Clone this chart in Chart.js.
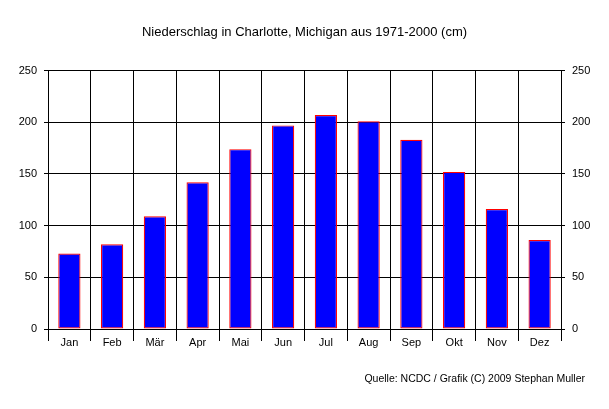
<!DOCTYPE html>
<html>
<head>
  <meta charset="utf-8">
  <title>Niederschlag Charlotte</title>
  <script src="https://cdn.jsdelivr.net/npm/chart.js"></script>
  <style>
    body { margin: 0; background: #fff; }
  </style>
</head>
<body>
  <canvas id="rainChart" width="609" height="409"></canvas>

  <script>
    const months = ['Jan', 'Feb', 'Mär', 'Apr', 'Mai', 'Jun', 'Jul', 'Aug', 'Sep', 'Okt', 'Nov', 'Dez'];
    const rain = [73, 82, 109, 142, 174, 197, 207, 201, 183, 152, 116, 86];
    const titleText = 'Niederschlag in Charlotte, Michigan aus 1971-2000 (cm)';
    const sourceText = 'Quelle: NCDC / Grafik (C) 2009 Stephan Muller';

    const font = 'Arial, "Liberation Sans", sans-serif';
    const ctx = document.getElementById('rainChart').getContext('2d');

    // footer line bottom right
    const sourceNote = {
      id: 'sourceNote',
      afterDraw(chart) {
        const c = chart.ctx;
        c.save();
        c.font = '10.5px ' + font;
        c.fillStyle = '#000';
        c.textAlign = 'right';
        c.textBaseline = 'middle';
        c.fillText(sourceText, 585, 379);
        c.restore();
      }
    };

    const yTicks = { color: '#000', font: { family: font, size: 11 }, stepSize: 50, padding: 7 };

    const chart = new Chart(ctx, {
      type: 'bar',
      data: {
        labels: months,
        datasets: [{
          data: rain,
          backgroundColor: '#0000ff',
          borderColor: '#ff0000',
          borderWidth: 1.2,
          borderSkipped: false,
          categoryPercentage: 1,
          barPercentage: 0.52
        }]
      },
      options: {
        responsive: false,
        devicePixelRatio: 1,
        animation: false,
        layout: { padding: { left: 0, right: 0, top: 0, bottom: 50 } },
        plugins: {
          legend: { display: false },
          tooltip: { enabled: false },
          title: {
            display: true,
            text: titleText,
            color: '#000',
            font: { family: font, size: 13, weight: 'normal' },
            padding: { top: 25, bottom: 30 }
          }
        },
        scales: {
          x: {
            grid: { color: '#000', tickLength: 12, offset: true },
            border: { color: '#000' },
            ticks: { color: '#000', font: { family: font, size: 11 }, padding: -5, maxRotation: 0 },
            afterFit: s => { s.height = 30; }
          },
          y: {
            position: 'left',
            min: 0, max: 250,
            grid: { color: '#000', tickLength: 4 },
            border: { color: '#000' },
            ticks: yTicks,
            afterFit: s => { s.width = 48; }
          },
          y2: {
            position: 'right',
            min: 0, max: 250,
            grid: { color: '#000', tickLength: 4, drawOnChartArea: false },
            border: { color: '#000' },
            ticks: yTicks,
            afterFit: s => { s.width = 48; }
          }
        }
      },
      plugins: [sourceNote]
    });
  </script>
</body>
</html>
